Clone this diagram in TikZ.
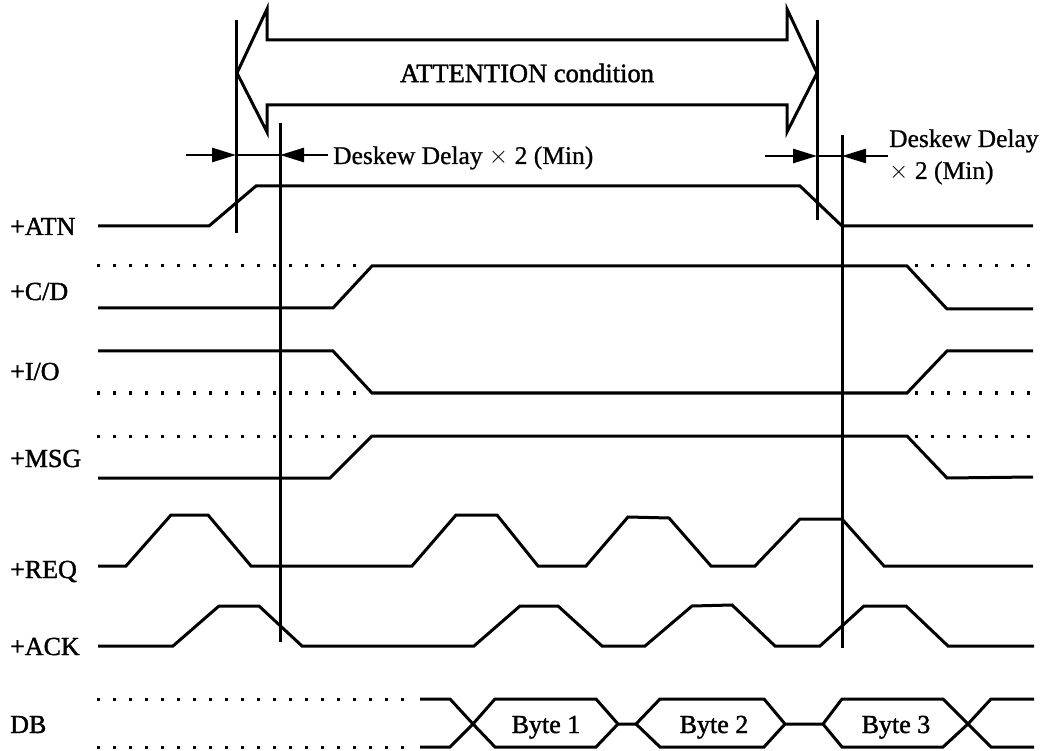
\documentclass[tikz,border=0pt]{standalone}
\usepackage{fontspec}
\setmainfont{Liberation Serif}
\newfontfamily\heavyfont[FakeBold=1.5]{Liberation Serif}
\newfontfamily\notefont[FakeBold=0.8]{Liberation Serif}
\usetikzlibrary{arrows.meta}
\begin{document}
\begin{tikzpicture}[x=1pt,y=-1pt,
  sig/.style={line width=3pt, line join=miter},
  dotline/.style={line width=3pt, dash pattern=on 3pt off 13pt},
  vline/.style={line width=3pt},
  dkarrow/.style={line width=2.6pt, -{Triangle[length=24pt,width=14pt]}},
  lbl/.style={anchor=base west, inner sep=0pt, font=\heavyfont\fontsize{26}{30}\selectfont},
  bytelbl/.style={anchor=base, inner sep=0pt, font=\heavyfont\fontsize{26}{30}\selectfont},
  note/.style={anchor=base west, inner sep=0pt, font=\notefont\fontsize{25.5}{30}\selectfont}]
\useasboundingbox (0,0) rectangle (1050,751);

% ---------- ATTENTION double arrow ----------
\draw[line width=3pt, line join=miter]
  (237,73) -- (267,9) -- (267,40) -- (787,40) -- (787,9) -- (817,73)
  -- (787,132) -- (787,105) -- (267,105) -- (267,132) -- cycle;
\node[inner sep=0pt, font=\heavyfont\fontsize{26.5}{30}\selectfont] (attn) at (527,73) {ATTENTION condition};

% ---------- vertical reference lines ----------
\coordinate (v1t) at (236,20);  \coordinate (v1b) at (236,233);
\coordinate (v2t) at (280,123); \coordinate (v2b) at (280,642);
\coordinate (v3t) at (817,20);  \coordinate (v3b) at (817,220);
\coordinate (v4t) at (842,135); \coordinate (v4b) at (842,648);
\draw[vline] (v1t) -- (v1b);
\draw[vline] (v2t) -- (v2b);
\draw[vline] (v3t) -- (v3b);
\draw[vline] (v4t) -- (v4b);

% ---------- deskew arrows ----------
\coordinate (d1) at (186,155); \coordinate (d1v) at (236,155);
\coordinate (d2) at (328,155); \coordinate (d2v) at (280,155);
\draw[dkarrow] (d1) -- (d1v);
\draw[line width=2.6pt] (d1v) -- (d2v);
\draw[dkarrow] (d2) -- (d2v);
\node[note] (dsk1) at (333,164) {Deskew Delay $\times$ 2 (Min)};

\coordinate (d3) at (765,156); \coordinate (d3v) at (817,156);
\coordinate (d4) at (888,156); \coordinate (d4v) at (842,156);
\draw[dkarrow] (d3) -- (d3v);
\draw[line width=2.6pt] (d3v) -- (d4v);
\draw[dkarrow] (d4) -- (d4v);
\node[note] (dsk2a) at (889,147) {Deskew Delay};
\node[note] (dsk2b) at (889,179) {$\times$ 2 (Min)};

% ---------- labels ----------
\node[lbl] (lATN) at (10,235) {+ATN};
\node[lbl] (lCD)  at (10,300) {+C/D};
\node[lbl] (lIO)  at (10,380) {+I/O};
\node[lbl] (lMSG) at (10,467) {+MSG};
\node[lbl] (lREQ) at (10,578) {+REQ};
\node[lbl] (lACK) at (10,655) {+ACK};
\node[lbl] (lDB)  at (10,733) {DB};

% ---------- ATN ----------
\draw[sig] (98,226) -- (209,226) -- (256,186) -- (800,186) -- (842,226) -- (1033,226);

% ---------- C/D ----------
\draw[dotline] (97,266) -- (365,266);
\draw[dotline] (915,266) -- (1033,266);
\draw[sig] (98,308) -- (333,308) -- (372,266) -- (907,266) -- (947,309) -- (1033,309);

% ---------- I/O ----------
\draw[dotline] (97,393) -- (365,393);
\draw[dotline] (915,393) -- (1033,393);
\draw[sig] (98,351) -- (333,351) -- (372,393) -- (907,393) -- (947,351) -- (1033,351);

% ---------- MSG ----------
\draw[dotline] (97,436) -- (365,436);
\draw[dotline] (915,436) -- (1033,436);
\draw[sig] (98,478) -- (330,478) -- (372,436) -- (907,436) -- (947,478) -- (1033,477);

% ---------- REQ ----------
\draw[sig] (98,566) -- (126,566) -- (171,515) -- (208,515) -- (251,566) -- (412,566)
  -- (456,515) -- (497,515) -- (538,566) -- (586,566) -- (628,517) -- (669,518)
  -- (711,566) -- (755,566) -- (800,519) -- (842,519) -- (884,566) -- (1033,566);

% ---------- ACK ----------
\draw[sig] (98,646) -- (173,646) -- (219,606) -- (259,606) -- (302,646) -- (474,646)
  -- (520,606) -- (558,606) -- (602,646) -- (645,646) -- (692,606) -- (732,605)
  -- (775,646) -- (820,646) -- (864,606) -- (906,606) -- (948,646) -- (1034,646);

% ---------- DB ----------
\draw[dotline] (97,699) -- (410,699);
\draw[dotline] (97,747) -- (410,747);
\draw[sig] (420,699) -- (450,699) -- (473,724) -- (495,699) -- (596,699) -- (618,724)
  -- (636,724) -- (660,699) -- (764,699) -- (785,724) -- (823,724) -- (842,699)
  -- (943,699) -- (968,724) -- (991,699) -- (1034,699);
\draw[sig] (420,747) -- (450,747) -- (473,724) -- (495,747) -- (596,747) -- (618,724);
\draw[sig] (636,724) -- (660,747) -- (764,747) -- (785,724);
\draw[sig] (823,724) -- (842,747) -- (943,747) -- (968,724) -- (991,747) -- (1034,747);
\node[bytelbl] (b1) at (546,733) {Byte 1};
\node[bytelbl] (b2) at (714,733) {Byte 2};
\node[bytelbl] (b3) at (896,733) {Byte 3};
\end{tikzpicture}
\end{document}
